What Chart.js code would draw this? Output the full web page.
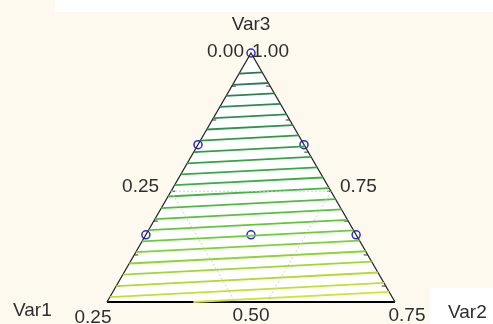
<!DOCTYPE html>
<html>
<head>
<meta charset="utf-8">
<script src="https://cdn.jsdelivr.net/npm/chart.js@4/dist/chart.umd.min.js"></script>
<style>
  html, body { margin: 0; padding: 0; background: #fef9ee; }
  #wrap { width: 493px; height: 324px; position: relative; }
</style>
</head>
<body>
<div id="wrap"><canvas id="c" width="493" height="324"></canvas></div>
<script>
// Mixture components (corner labels)
const axisNames = ['Var1', 'Var2', 'Var3'];
// Tick labels on the three edges
const bottomTickLabels = ['0.25', '0.50', '0.75'];
const leftTickLabels = ['0.00', '0.25'];
const rightTickLabels = ['1.00', '0.75'];
// Var3 level of the labelled grid line
const gridLevel = 0.445;
// Var3 levels of the small tick marks on the side edges
const edgeTickLevels = [0.064, 0.189, 0.325, 0.445, 0.602, 0.731, 0.867];

// Design points (pseudo-component fractions)
const designVar3 = [1.0, 0.632, 0.632, 0.27, 0.27, 0.27];
const designVar2 = [0.0, 0.0, 0.368, 0.0, 0.73, 0.365];

// Contour lines: Var3 value where each line crosses the centre line, top to bottom
const contourCentre = [0.920, 0.876, 0.833, 0.790, 0.746, 0.702, 0.659, 0.614, 0.570, 0.527, 0.485,
                       0.441, 0.396, 0.353, 0.310, 0.266, 0.224, 0.180, 0.137, 0.092, 0.049, 0.012];
// Rise of the contour lines per unit of width
const contourTilt = 0.06;

// ternary -> plane: x = Var2 + Var3/2, y = Var3 (triangle of unit width and unit height)
const toXY = (v2, v3) => ({ x: v2 + v3 / 2, y: v3 });

const palette = [
  [0.00, [42, 120, 82]],
  [0.45, [52, 172, 68]],
  [0.70, [100, 206, 52]],
  [1.00, [212, 226, 48]]
];
function colourAt(t) {
  for (let i = 1; i < palette.length; i++) {
    if (t <= palette[i][0]) {
      const [t0, c0] = palette[i - 1], [t1, c1] = palette[i];
      const f = (t - t0) / (t1 - t0);
      const c = c0.map((v, k) => Math.round(v + (c1[k] - v) * f));
      return `rgb(${c[0]},${c[1]},${c[2]})`;
    }
  }
  return 'rgb(212,226,48)';
}

// clip a tilted contour to the triangle
function contourSegment(c, s) {
  let xl = (c - 0.5 * s) / (2 - s);
  let hl = 2 * xl;
  if (c + s * (xl - 0.5) < 0 || hl < 0) { xl = 0.5 - c / s; hl = 0; }
  const xr = (2 - c + 0.5 * s) / (2 + s);
  const hr = 2 - 2 * xr;
  return [{ x: xl, y: hl }, { x: xr, y: hr }];
}

const datasets = [];

// white triangle body
datasets.push({
  data: [{ x: 0, y: 0 }, { x: 1, y: 0 }, { x: 0.5, y: 1 }, { x: 0, y: 0 }],
  showLine: true, fill: 'shape', backgroundColor: '#ffffff', borderWidth: 0,
  pointRadius: 0, order: 10
});

// grid lines through the labelled level
const gl = gridLevel / 2;
const gridStyle = { showLine: true, borderColor: '#cfcfcf', borderWidth: 1, borderDash: [2, 2], pointRadius: 0, fill: false };
datasets.push({ ...gridStyle, data: [{ x: gl, y: gridLevel }, { x: 1 - gl, y: gridLevel }] });
datasets.push({ ...gridStyle, data: [{ x: gl, y: gridLevel }, { x: 2 * gl, y: 0 }] });
datasets.push({ ...gridStyle, data: [{ x: 1 - gl, y: gridLevel }, { x: 1 - 2 * gl, y: 0 }] });

// contour lines
contourCentre.forEach((c, i) => {
  datasets.push({
    data: contourSegment(c, contourTilt),
    showLine: true, fill: false, pointRadius: 0,
    borderColor: colourAt(i / (contourCentre.length - 1)), borderWidth: 1.8
  });
});

// triangle edges
datasets.push({ data: [{ x: 0, y: 0 }, { x: 0.5, y: 1 }, { x: 1, y: 0 }], showLine: true, fill: false,
  pointRadius: 0, borderColor: '#262626', borderWidth: 1.3 });
datasets.push({ data: [{ x: 0, y: 0 }, { x: 1, y: 0 }], showLine: true, fill: false,
  pointRadius: 0, borderColor: '#000000', borderWidth: 2 });

// small tick marks pointing inward from the side edges
const tickLen = 0.014;
edgeTickLevels.forEach(h => {
  datasets.push({ data: [{ x: h / 2, y: h }, { x: h / 2 + tickLen, y: h }], showLine: true, fill: false,
    pointRadius: 0, borderColor: '#303030', borderWidth: 1 });
  datasets.push({ data: [{ x: 1 - h / 2, y: h }, { x: 1 - h / 2 - tickLen, y: h }], showLine: true, fill: false,
    pointRadius: 0, borderColor: '#303030', borderWidth: 1 });
});

// design points
datasets.push({
  data: designVar3.map((v3, i) => toXY(designVar2[i], v3)),
  showLine: false, pointRadius: 4, pointHoverRadius: 4,
  pointBackgroundColor: 'rgba(0,0,0,0)', pointBorderColor: '#2b2bd0', pointBorderWidth: 1.5
});

// canvas background and white panels
const backdrop = {
  id: 'backdrop',
  beforeDraw(chart) {
    const ctx = chart.ctx;
    ctx.save();
    ctx.fillStyle = '#fef9ee';
    ctx.fillRect(0, 0, chart.width, chart.height);
    ctx.fillStyle = '#ffffff';
    ctx.fillRect(55, 0, chart.width - 55, 12);
    ctx.fillRect(430, 288, chart.width - 430, chart.height - 288);
    ctx.restore();
  }
};

// axis names and tick labels anchored to the triangle
const labels = {
  id: 'labels',
  afterDraw(chart) {
    const { ctx, scales: { x, y } } = chart;
    const px = v => x.getPixelForValue(v), py = v => y.getPixelForValue(v);
    ctx.save();
    ctx.font = '19px "Liberation Sans", Arial, sans-serif';
    ctx.fillStyle = '#2e2e2e';
    ctx.textBaseline = 'alphabetic';
    const apexX = px(0.5), apexY = py(1);
    const gx = px(gridLevel / 2), gy = py(gridLevel), gxr = px(1 - gridLevel / 2);
    const base = py(0);

    ctx.textAlign = 'center';
    ctx.fillText(axisNames[2], apexX, apexY - 23);
    ctx.textAlign = 'right';
    ctx.fillText(leftTickLabels[0], apexX - 7, apexY + 4);
    ctx.textAlign = 'left';
    ctx.fillText(rightTickLabels[0], apexX + 1, apexY + 4);

    ctx.textAlign = 'right';
    ctx.fillText(leftTickLabels[1], gx - 12, gy + 1);
    ctx.textAlign = 'left';
    ctx.fillText(rightTickLabels[1], gxr + 9, gy + 1);

    ctx.textAlign = 'center';
    ctx.fillText(bottomTickLabels[0], px(0) - 14, base + 21);
    ctx.fillText(bottomTickLabels[1], px(0.5), base + 19);
    ctx.fillText(bottomTickLabels[2], px(1) + 12, base + 19);

    ctx.textAlign = 'left';
    ctx.fillText(axisNames[0], 13, base + 14);
    ctx.fillText(axisNames[1], 448, base + 16);
    ctx.restore();
  }
};

new Chart(document.getElementById('c'), {
  type: 'scatter',
  data: { datasets },
  options: {
    responsive: false,
    animation: false,
    events: [],
    layout: { padding: 0, autoPadding: false },
    plugins: { legend: { display: false }, tooltip: { enabled: false } },
    scales: {
      x: { type: 'linear', display: false, min: -0.3715, max: 1.3403 },
      y: { type: 'linear', display: false, min: -0.0883, max: 1.2129 }
    }
  },
  plugins: [backdrop, labels]
});
</script>
</body>
</html>
